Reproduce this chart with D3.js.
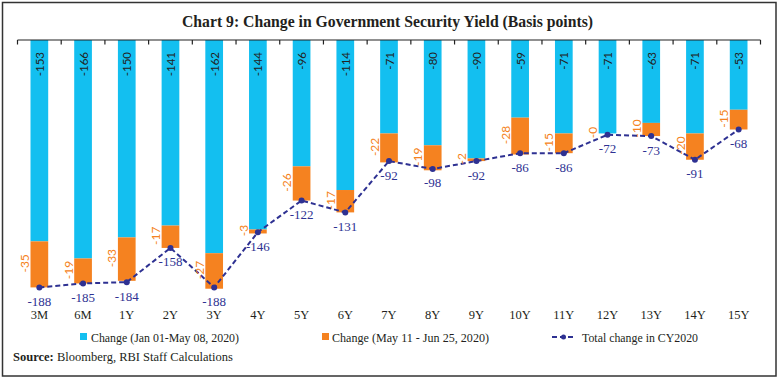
<!DOCTYPE html>
<html>
<head>
<meta charset="utf-8">
<script src="https://cdn.jsdelivr.net/npm/d3@7"></script>
<style>
  html, body { margin: 0; padding: 0; background: #fff; }
  svg { display: block; }
</style>
</head>
<body>
<svg id="chart" width="779" height="379"></svg>
<script>
const categories = ["3M","6M","1Y","2Y","3Y","4Y","5Y","6Y","7Y","8Y","9Y","10Y","11Y","12Y","13Y","14Y","15Y"];
const changeJanMay = [-153,-166,-150,-141,-162,-144,-96,-114,-71,-80,-90,-59,-71,-71,-63,-71,-53];
const changeMayJun = [-35,-19,-33,-17,-27,-3,-26,-17,-22,-19,-2,-28,-15,-0,-10,-20,-15];
const totalChange = [-188,-185,-184,-158,-188,-146,-122,-131,-92,-98,-92,-86,-86,-72,-73,-91,-68];
const seriesNames = ["Change (Jan 01-May 08, 2020)", "Change (May 11 - Jun 25, 2020)", "Total change in CY2020"];
const titleText = "Chart 9: Change in Government Security Yield (Basis points)";
const sourceLabel = "Source:";
const sourceText = " Bloomberg, RBI Staff Calculations";

const BLUE = "#13bff0", ORANGE = "#f58220", NAVY = "#2e3192";
const serif = "'Liberation Serif', 'DejaVu Serif', serif";
const sans = "Lato, 'Open Sans', sans-serif";

const svg = d3.select("#chart");

// frame
svg.append("rect").attr("x", 2.5).attr("y", 2.5).attr("width", 773.5).attr("height", 373.5)
  .attr("fill", "none").attr("stroke", "#333").attr("stroke-width", 1.5);

// title
const title = svg.append("text").attr("x", 387.5).attr("y", 27).attr("text-anchor", "middle")
  .attr("font-family", serif).attr("font-weight", "bold").attr("font-size", 16).attr("fill", "#231f20")
  .text(titleText);
title.attr("textLength", 411).attr("lengthAdjust", "spacingAndGlyphs");

const xSlot = d3.scaleBand().domain(categories).range([17.5, 760.5]).padding(0);
const barFrac = 0.405;
const barW = xSlot.bandwidth() * barFrac;
const cx = c => xSlot(c) + xSlot.bandwidth() / 2;
const y = d3.scaleLinear().domain([-200, 0]).range([303.2, 40]);

const data = categories.map((c, i) => ({ c, a: changeJanMay[i], b: changeMayJun[i], t: totalChange[i] }));

// blue bars
svg.append("g").selectAll("rect").data(data).join("rect")
  .attr("x", d => cx(d.c) - barW / 2).attr("width", barW)
  .attr("y", y(0)).attr("height", d => y(d.a) - y(0)).attr("fill", BLUE);

// orange bars
svg.append("g").selectAll("rect").data(data).join("rect")
  .attr("x", d => cx(d.c) - barW / 2).attr("width", barW)
  .attr("y", d => y(d.a)).attr("height", d => Math.max(0, y(d.a + d.b) - y(d.a))).attr("fill", ORANGE);

// axis line at zero with downward ticks at slot boundaries
const axisG = svg.append("g").attr("stroke", "#222").attr("stroke-width", 1.2);
const r = xSlot.range();
axisG.append("line").attr("x1", r[0]).attr("x2", r[1]).attr("y1", y(0)).attr("y2", y(0));
const bounds = categories.map(c => xSlot(c)).concat([r[1]]);
axisG.selectAll("line.t").data(bounds).join("line").attr("class", "t")
  .attr("x1", d => d).attr("x2", d => d).attr("y1", y(0)).attr("y2", y(0) + 4.5);

// blue labels (rotated, at top inside)
svg.append("g").selectAll("text").data(data).join("text")
  .attr("transform", d => `translate(${cx(d.c)},${y(0) + 12}) rotate(-90)`)
  .attr("text-anchor", "end").attr("dominant-baseline", "central")
  .attr("font-family", sans).attr("font-size", 11.5).attr("fill", "#222")
  .text(d => String(d.a));

// total line
const line = d3.line().x(d => cx(d.c)).y(d => y(d.t));
svg.append("path").datum(data).attr("d", line).attr("fill", "none")
  .attr("stroke", NAVY).attr("stroke-width", 2).attr("stroke-dasharray", "5,3");
svg.append("g").selectAll("circle").data(data).join("circle")
  .attr("cx", d => cx(d.c)).attr("cy", d => y(d.t)).attr("r", 3).attr("fill", NAVY);
svg.append("g").selectAll("text").data(data).join("text")
  .attr("x", d => cx(d.c)).attr("y", d => y(d.t) + 14)
  .attr("text-anchor", "middle").attr("dominant-baseline", "central")
  .attr("font-family", serif).attr("font-size", 13).attr("fill", NAVY)
  .text(d => String(d.t));

// orange labels (rotated, left of segment) drawn above the line
svg.append("g").selectAll("text").data(data).join("text")
  .attr("transform", d => `translate(${cx(d.c) - barW / 2 - 6},${(y(d.a) + y(d.a + d.b)) / 2 - 1}) rotate(-90)`)
  .attr("text-anchor", "middle").attr("dominant-baseline", "central")
  .attr("font-family", sans).attr("font-size", 12).attr("fill", ORANGE)
  .text(d => (d.b === 0 ? "-0" : String(d.b)));

// category labels
const catAxis = d3.axisBottom(xSlot).tickSize(0).tickPadding(0);
const catG = svg.append("g").attr("transform", "translate(0,310)").call(catAxis);
catG.select(".domain").remove();
catG.selectAll("text").attr("font-family", serif).attr("font-size", 12.5).attr("fill", "#231f20");

// legend
const lg = svg.append("g").attr("font-family", serif).attr("font-size", 13).attr("fill", "#231f20");
lg.append("rect").attr("x", 80).attr("y", 333).attr("width", 7).attr("height", 7).attr("fill", BLUE);
lg.append("text").attr("x", 91).attr("y", 337).attr("dominant-baseline", "central").text(seriesNames[0])
  .attr("textLength", 148).attr("lengthAdjust", "spacingAndGlyphs");
lg.append("rect").attr("x", 322).attr("y", 333).attr("width", 7).attr("height", 7).attr("fill", ORANGE);
lg.append("text").attr("x", 332).attr("y", 337).attr("dominant-baseline", "central").text(seriesNames[1])
  .attr("textLength", 157).attr("lengthAdjust", "spacingAndGlyphs");
lg.append("line").attr("x1", 552).attr("x2", 575).attr("y1", 337).attr("y2", 337)
  .attr("stroke", NAVY).attr("stroke-width", 2).attr("stroke-dasharray", "5,3");
lg.append("circle").attr("cx", 563.5).attr("cy", 337).attr("r", 2.5).attr("fill", NAVY);
lg.append("text").attr("x", 582).attr("y", 337).attr("dominant-baseline", "central").text(seriesNames[2])
  .attr("textLength", 116).attr("lengthAdjust", "spacingAndGlyphs");

// source
const src = svg.append("text").attr("x", 13).attr("y", 357).attr("dominant-baseline", "central")
  .attr("font-family", serif).attr("font-size", 12.5).attr("fill", "#231f20");
src.append("tspan").attr("font-weight", "bold").text(sourceLabel);
src.append("tspan").text(sourceText);
</script>
</body>
</html>
